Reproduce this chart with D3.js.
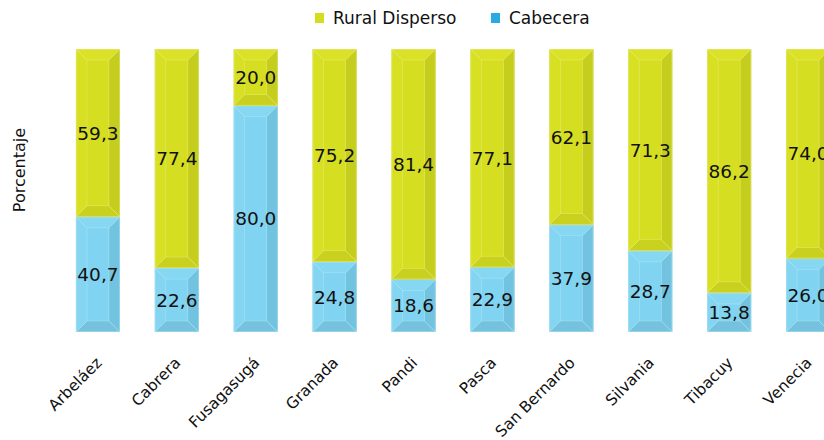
<!DOCTYPE html>
<html><head><meta charset="utf-8">
<script src="https://cdn.jsdelivr.net/npm/d3@7/dist/d3.min.js"></script>
<style>body{margin:0;background:#fff}svg{display:block}text{font-family:"DejaVu Sans",sans-serif}</style>
</head><body><svg id="c" width="824" height="440"></svg>
<script>
const categories = ["Arbeláez","Cabrera","Fusagasugá","Granada","Pandi","Pasca","San Bernardo","Silvania","Tibacuy","Venecia"];
const cabecera = [40.7,22.6,80.0,24.8,18.6,22.9,37.9,28.7,13.8,26.0];
const rural = [59.3,77.4,20.0,75.2,81.4,77.1,62.1,71.3,86.2,74.0];
const seriesNames = ["Rural Disperso","Cabecera"];

const svg = d3.select("#c");
const fmt = v => d3.format(".1f")(v).replace(".", ",");

const x = d3.scaleBand().domain(categories).range([58.5, 847.5]).paddingInner(0.442).paddingOuter(0.221);
const y = d3.scaleLinear().domain([0, 100]).range([332, 49]);

const colors = {
  rural: {face:"#d6de21", top:"#dae126", left:"#d8e024", right:"#c6ce1d", bottom:"#c9d01e", line:"#eef29a", edge:"#e4e98a"},
  cab: {face:"#80d4f1", top:"#86d7f2", left:"#83d5f1", right:"#72c3df", bottom:"#74c2dd", line:"#c2ecf9", edge:"#b6e4f4"}
};

function bevel(g, x0, y0, w, h, c) {
  const b = Math.min(11, h / 2 - 1);
  const x1 = x0 + w, y1 = y0 + h;
  g.append("rect").attr("x", x0).attr("y", y0).attr("width", w).attr("height", h).attr("fill", c.face);
  g.append("polygon").attr("points", [[x0,y0],[x1,y0],[x1-b,y0+b],[x0+b,y0+b]].join(" ")).attr("fill", c.top);
  g.append("polygon").attr("points", [[x0,y0],[x0+b,y0+b],[x0+b,y1-b],[x0,y1]].join(" ")).attr("fill", c.left);
  g.append("polygon").attr("points", [[x1,y0],[x1,y1],[x1-b,y1-b],[x1-b,y0+b]].join(" ")).attr("fill", c.right);
  g.append("polygon").attr("points", [[x0,y1],[x0+b,y1-b],[x1-b,y1-b],[x1,y1]].join(" ")).attr("fill", c.bottom);
  g.append("rect").attr("x", x0+b).attr("y", y0+b).attr("width", w-2*b).attr("height", h-2*b)
    .attr("fill", c.face).attr("stroke", c.line).attr("stroke-width", 0.6).attr("stroke-opacity", 0.6);
  [[x0,y0,x0+b,y0+b],[x1,y0,x1-b,y0+b],[x0,y1,x0+b,y1-b],[x1,y1,x1-b,y1-b]].forEach(l=>{
    g.append("line").attr("x1",l[0]).attr("y1",l[1]).attr("x2",l[2]).attr("y2",l[3])
      .attr("stroke", c.line).attr("stroke-width", 0.7).attr("stroke-opacity", 0.8);
  });
  g.append("rect").attr("x", x0+0.4).attr("y", y0+0.4).attr("width", w-0.8).attr("height", h-0.8)
    .attr("fill", "none").attr("stroke", c.edge).attr("stroke-width", 0.8).attr("stroke-opacity", 0.6);
}

const bars = svg.append("g");
categories.forEach((cat, i) => {
  const bx = x(cat), bw = x.bandwidth();
  const g = bars.append("g");
  const yc0 = y(0), yc1 = y(cabecera[i]);
  bevel(g, bx, yc1, bw, yc0 - yc1, colors.cab);
  const yr1 = y(cabecera[i] + rural[i]);
  bevel(g, bx, yr1, bw, yc1 - yr1, colors.rural);
  g.append("text").attr("x", bx + bw/2).attr("y", (yc0 + yc1)/2).attr("dy", "0.36em")
    .attr("text-anchor", "middle").attr("font-size", 18.5).attr("fill", "#111").text(fmt(cabecera[i]));
  g.append("text").attr("x", bx + bw/2).attr("y", (yc1 + yr1)/2).attr("dy", "0.36em")
    .attr("text-anchor", "middle").attr("font-size", 18.5).attr("fill", "#111").text(fmt(rural[i]));
});

// x axis labels
const xAxis = svg.append("g").attr("transform", "translate(0,350)")
  .call(d3.axisBottom(x).tickSize(0).tickPadding(0));
xAxis.select(".domain").remove();
xAxis.selectAll("text")
  .attr("font-size", 15.5).attr("fill", "#111")
  .attr("font-family", "DejaVu Sans, sans-serif")
  .attr("text-anchor", "end").attr("y", 0).attr("dy", "0.7em").attr("dx", "0")
  .attr("transform", "translate(-3,6) rotate(-45)");

// y title
svg.append("text").attr("transform", "translate(25,170) rotate(-90)")
  .attr("text-anchor", "middle").attr("font-size", 16).attr("fill", "#111").text("Porcentaje");

// legend
const legend = [{name: seriesNames[0], color: "#d4de1e", x: 315}, {name: seriesNames[1], color: "#29abe2", x: 491}];
legend.forEach(l => {
  svg.append("rect").attr("x", l.x).attr("y", 13).attr("width", 9).attr("height", 10).attr("fill", l.color);
  svg.append("text").attr("x", l.x + 18).attr("y", 18).attr("dy", "0.36em")
    .attr("font-size", 17).attr("fill", "#111").text(l.name);
});
</script></body></html>
